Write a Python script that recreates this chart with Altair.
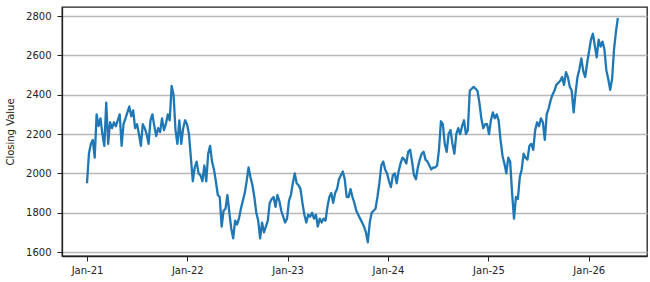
import altair as alt
import pandas as pd

closing_2021 = [1950, 2100, 2150, 2170, 2080, 2300, 2240, 2280, 2200, 2140, 2360, 2150, 2260,
                2230, 2260, 2240, 2270, 2300, 2140, 2250, 2280, 2310, 2340, 2290, 2320, 2230,
                2250, 2200, 2140, 2250, 2230, 2200, 2150, 2270, 2300, 2240, 2190, 2230, 2210,
                2280, 2220, 2250, 2300, 2270, 2445, 2400, 2220, 2150, 2270, 2150, 2230, 2270]
closing_2022 = [2250, 2200, 2080, 1960, 2030, 2060, 2000, 1990, 1960, 2040, 1960, 2100, 2140,
                2060, 2020, 1960, 1890, 1880, 1730, 1810, 1820, 1890, 1800, 1720, 1670, 1760,
                1740, 1770, 1820, 1860, 1900, 1960, 2030, 1980, 1940, 1880, 1800, 1760, 1670,
                1750, 1700, 1730, 1760, 1850, 1870, 1880, 1830, 1890, 1860, 1810, 1780, 1750]
closing_2023 = [1770, 1860, 1890, 1950, 2000, 1950, 1940, 1920, 1850, 1790, 1750, 1790, 1780,
                1800, 1770, 1790, 1730, 1770, 1750, 1770, 1760, 1830, 1880, 1900, 1850, 1900,
                1920, 1970, 1990, 2010, 1970, 1880, 1880, 1920, 1880, 1850, 1810, 1790, 1770,
                1750, 1730, 1700, 1650, 1750, 1800, 1810, 1820, 1880, 1950, 2040, 2060, 2020]
closing_2024 = [2000, 1960, 1930, 1990, 2000, 1950, 2010, 2050, 2080, 2070, 2050, 2110, 2120,
                2060, 1990, 1970, 2030, 2070, 2100, 2110, 2070, 2060, 2040, 2020, 2030, 2030,
                2040, 2120, 2265, 2250, 2150, 2110, 2200, 2220, 2150, 2100, 2200, 2230, 2200,
                2240, 2270, 2200, 2220, 2420, 2430, 2440, 2430, 2420, 2360, 2280, 2230, 2250]
closing_2025 = [2250, 2200, 2270, 2310, 2280, 2300, 2270, 2170, 2090, 2050, 2000, 2080, 2060,
                1900, 1770, 1880, 1870, 1980, 2020, 2100, 2080, 2070, 2140, 2150, 2120, 2220,
                2260, 2240, 2280, 2260, 2170, 2300, 2330, 2370, 2400, 2420, 2450, 2460, 2470,
                2490, 2450, 2515, 2490, 2440, 2420, 2310, 2410, 2490, 2530, 2585, 2520, 2490]
closing_2026 = [2560, 2620, 2680, 2710, 2650, 2590, 2680, 2645, 2670, 2630, 2525, 2480, 2425,
                2480, 2630, 2720, 2790]

values = closing_2021 + closing_2022 + closing_2023 + closing_2024 + closing_2025 + closing_2026
dates = pd.date_range("2021-01-01", periods=len(values), freq="7D")
df = pd.DataFrame({"date": dates, "close": values})

tick_years = [2021, 2022, 2023, 2024, 2025, 2026]
x_ticks = [alt.DateTime(year=y, month=1, date=1) for y in tick_years]
y_ticks = [1600, 1800, 2000, 2200, 2400, 2600, 2800]

chart = alt.Chart(df).mark_line(color="#1f77b4", strokeWidth=2.3, strokeJoin="round").encode(
    x=alt.X("date:T",
            scale=alt.Scale(domain=[alt.DateTime(year=2020, month=10, date=2),
                                    alt.DateTime(year=2026, month=8, date=1)]),
            axis=alt.Axis(values=x_ticks, format="%b-%y", title=None, grid=False,
                          tickSize=5, labelPadding=4, labelAngle=0)),
    y=alt.Y("close:Q",
            scale=alt.Scale(domain=[1580, 2846], nice=False, zero=False),
            axis=alt.Axis(values=y_ticks, format="d", title="Closing Value", grid=True,
                          tickSize=5, labelPadding=6, titlePadding=10)),
).properties(
    width=585, height=249,
    autosize=alt.AutoSizeParams(type="none"),
    padding={"left": 62, "top": 7, "right": 3, "bottom": 26},
).configure_view(
    stroke="#222222", strokeWidth=1.3
).configure_axis(
    domainColor="#222222", domainWidth=1.3,
    tickColor="#222222", tickWidth=1,
    labelColor="#222222", labelFont="DejaVu Sans", labelFontSize=10,
    titleColor="#222222", titleFont="DejaVu Sans", titleFontSize=10, titleFontWeight="normal",
    gridColor="#b8b8b8", gridWidth=1.3,
)

chart.save("out.html", embed_options={"renderer": "svg", "actions": False})
